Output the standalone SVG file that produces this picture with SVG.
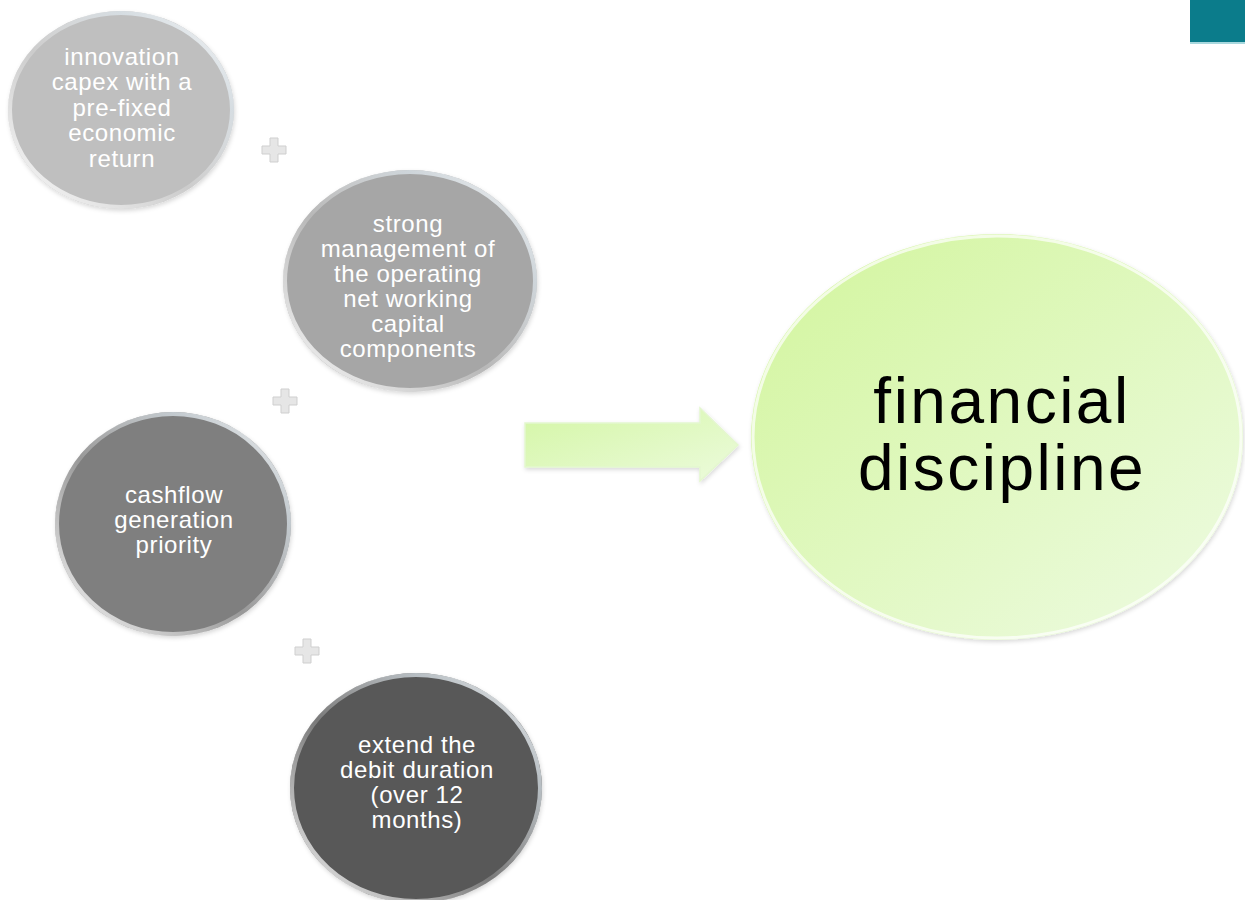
<svg xmlns="http://www.w3.org/2000/svg" width="1245" height="900" viewBox="0 0 1245 900">
<defs>
<style>
.lbl{font-family:"Liberation Sans",Arial,sans-serif;font-size:24px;fill:#ffffff;text-anchor:middle;letter-spacing:0.6px}
.big{font-family:"Liberation Sans",Arial,sans-serif;font-size:64px;fill:#000000;text-anchor:middle;letter-spacing:2.5px}
.rim{fill:none;stroke:url(#rimG);stroke-width:4}
.plus{fill:#e6e6e6;stroke:#cfcfcf;stroke-width:1}
</style>
<linearGradient id="rimG" x1="0" y1="1" x2="1" y2="0">
<stop offset="0" stop-color="#ffffff" stop-opacity="0.95"/>
<stop offset="0.45" stop-color="#ffffff" stop-opacity="0.2"/>
<stop offset="0.75" stop-color="#dfe9f0" stop-opacity="0.7"/>
<stop offset="1" stop-color="#ffffff" stop-opacity="0.9"/>
</linearGradient>
<linearGradient id="greenG" x1="0" y1="0" x2="1" y2="1">
<stop offset="0" stop-color="#d2f59c"/>
<stop offset="1" stop-color="#eefbe3"/>
</linearGradient>
<linearGradient id="arrowG" x1="0" y1="0" x2="1" y2="1">
<stop offset="0" stop-color="#d4f6a6"/>
<stop offset="1" stop-color="#ecfbdc"/>
</linearGradient>
<filter id="sh" x="-10%" y="-10%" width="120%" height="120%">
<feGaussianBlur in="SourceAlpha" stdDeviation="2"/>
<feOffset dx="1" dy="2" result="b"/>
<feFlood flood-color="#000" flood-opacity="0.15"/>
<feComposite in2="b" operator="in"/>
<feMerge><feMergeNode/><feMergeNode in="SourceGraphic"/></feMerge>
</filter>
</defs>
<rect width="1245" height="900" fill="#ffffff"/>
<g id="corner">
<rect x="1190" y="0" width="55" height="42" fill="#0b7c8b"/>
<rect x="1190" y="42" width="55" height="2" fill="#a9d8de"/>
</g>
<g id="connectors">
<g id="plus1" transform="translate(274,150)"><path class="plus" d="M-4,-12 H4 V-4 H12 V4 H4 V12 H-4 V4 H-12 V-4 H-4 Z"/></g>
<g id="plus2" transform="translate(285,401)"><path class="plus" d="M-4,-12 H4 V-4 H12 V4 H4 V12 H-4 V4 H-12 V-4 H-4 Z"/></g>
<g id="plus3" transform="translate(307,651)"><path class="plus" d="M-4,-12 H4 V-4 H12 V4 H4 V12 H-4 V4 H-12 V-4 H-4 Z"/></g>
<g id="arrow"><path d="M525,423 H700 V408 L738,445 L700,481 V467 H525 Z" fill="url(#arrowG)" stroke="#e4f7cf" stroke-width="1.5" filter="url(#sh)"/></g>
</g>
<g id="node1">
<ellipse cx="121" cy="110" rx="113" ry="99" fill="#bfbfbf" filter="url(#sh)"/>
<ellipse class="rim" cx="121" cy="110" rx="111" ry="97"/>
<text class="lbl" x="122" y="65">innovation</text>
<text class="lbl" x="122" y="90">capex with a</text>
<text class="lbl" x="122" y="116">pre-fixed</text>
<text class="lbl" x="122" y="141">economic</text>
<text class="lbl" x="122" y="167">return</text>
</g>
<g id="node2">
<ellipse cx="410" cy="281" rx="127" ry="111" fill="#a6a6a6" filter="url(#sh)"/>
<ellipse class="rim" cx="410" cy="281" rx="125" ry="109"/>
<text class="lbl" x="408" y="232">strong</text>
<text class="lbl" x="408" y="257">management of</text>
<text class="lbl" x="408" y="282">the operating</text>
<text class="lbl" x="408" y="307">net working</text>
<text class="lbl" x="408" y="332">capital</text>
<text class="lbl" x="408" y="357">components</text>
</g>
<g id="node3">
<ellipse cx="173" cy="524" rx="118" ry="112" fill="#7f7f7f" filter="url(#sh)"/>
<ellipse class="rim" cx="173" cy="524" rx="116" ry="110"/>
<text class="lbl" x="174" y="503">cashflow</text>
<text class="lbl" x="174" y="528">generation</text>
<text class="lbl" x="174" y="553">priority</text>
</g>
<g id="node4">
<ellipse cx="416" cy="788" rx="126" ry="115" fill="#595959" filter="url(#sh)"/>
<ellipse class="rim" cx="416" cy="788" rx="124" ry="113"/>
<text class="lbl" x="417" y="753">extend the</text>
<text class="lbl" x="417" y="778">debit duration</text>
<text class="lbl" x="417" y="803">(over 12</text>
<text class="lbl" x="417" y="828">months)</text>
</g>
<g id="node5">
<ellipse cx="997" cy="437" rx="246" ry="203" fill="url(#greenG)" filter="url(#sh)"/>
<ellipse cx="997" cy="437" rx="244" ry="201" fill="none" stroke="#ffffff" stroke-opacity="0.7" stroke-width="3"/>
<text class="big" x="1002" y="423">financial</text>
<text class="big" x="1002" y="490">discipline</text>
</g>
</svg>
